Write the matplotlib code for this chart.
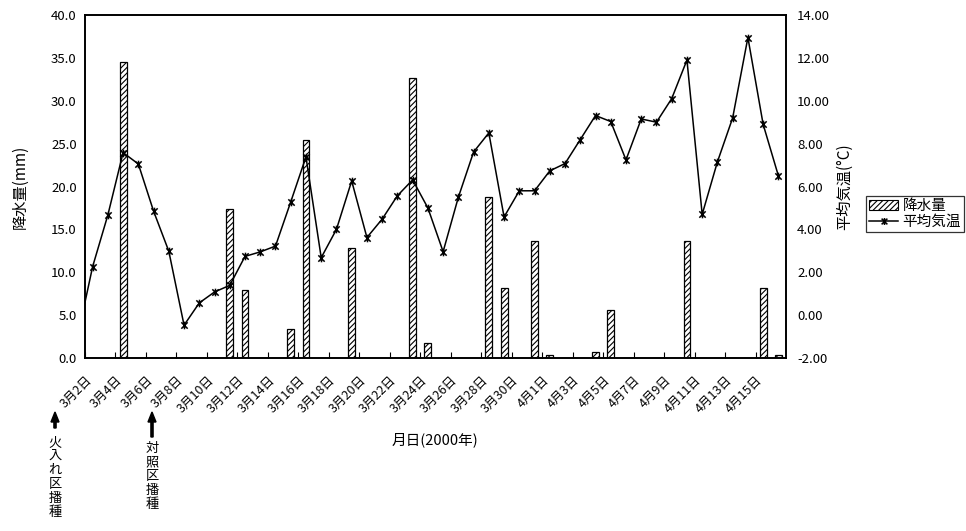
import matplotlib
matplotlib.use('Agg')
import matplotlib.pyplot as plt
from matplotlib.path import Path
from matplotlib.patches import Patch, FancyArrow
from matplotlib.lines import Line2D

plt.rcParams['font.family'] = ['Noto Sans CJK JP', 'DejaVu Sans']
plt.rcParams['hatch.linewidth'] = 0.8

# ============ DATA ============
# 3/2 .. 4/16 (2000)
dates = ([f'3月{d}日' for d in range(2, 32)] +
         [f'4月{d}日' for d in range(1, 17)])

rain = [0.0] * len(dates)
rain_days = {2: 34.5, 9: 17.4, 10: 7.9, 13: 3.4, 14: 25.4, 17: 12.8,
             21: 32.7, 22: 1.8, 26: 18.8, 27: 8.2, 29: 13.7, 30: 0.3,
             33: 0.7, 34: 5.6, 39: 13.7, 44: 8.2, 45: 0.3}
for k, v in rain_days.items():
    rain[k] = v

# 3/1 value sits just outside the plotted range (line enters from the left edge)
temp_prev = -1.05
temp = [2.26, 4.67, 7.58, 7.05, 4.85, 2.98, -0.47, 0.57, 1.08, 1.39,
        2.74, 2.95, 3.22, 5.28, 7.38, 2.68, 4.00, 6.26, 3.62, 4.48,
        5.57, 6.31, 5.00, 2.96, 5.50, 7.61, 8.50, 4.58, 5.80, 5.80,
        6.73, 7.07, 8.19, 9.31, 9.03, 7.24, 9.15, 9.00, 10.10, 11.90,
        4.70, 7.15, 9.20, 12.95, 8.90, 6.50]

sowing = [('火入れ区播種', 55, 428, 436), ('対照区播種', 152, 437, 442)]

x = list(range(len(dates)))

# Excel-like "star" marker: X with a vertical stroke
star = Path([(-1, -1), (1, 1), (-1, 1), (1, -1), (0, -1.2), (0, 1.2)],
            [Path.MOVETO, Path.LINETO, Path.MOVETO, Path.LINETO,
             Path.MOVETO, Path.LINETO])

# ============ PLOTTING ============
W, H = 966, 531
fig = plt.figure(figsize=(W / 100, H / 100), dpi=100)
ax = fig.add_axes([85 / W, 1 - 358 / H, 701 / W, 343 / H])

ax.bar(x, rain, width=0.45, color='white', edgecolor='black',
       hatch='//////', linewidth=0.9, zorder=2)
ax.set_xlim(-0.5, len(dates) - 0.5)
ax.set_ylim(0, 40)
ax.set_yticks(range(0, 41, 5))
ax.set_yticklabels([f'{v:.1f}' for v in range(0, 41, 5)])
ax.set_ylabel('降水量(mm)', fontsize=11, labelpad=16)

ax2 = ax.twinx()
ax2.plot([-1] + x, [temp_prev] + temp, color='black', lw=1.1,
         marker=star, markersize=5.5, markeredgewidth=1.1, zorder=3)
ax2.set_xlim(-0.5, len(dates) - 0.5)
ax2.set_ylim(-2, 14)
ax2.set_yticks(range(-2, 15, 2))
ax2.set_yticklabels([f'{v:.2f}' for v in range(-2, 15, 2)])
ax2.set_ylabel('平均気温(°C)', fontsize=11, labelpad=4)

# ticks at category boundaries every 2 days, labels of those days
ticks = [i - 0.5 for i in x if i % 2 == 0]
ax.set_xticks(ticks)
ax.set_xticklabels([dates[i] for i in x if i % 2 == 0], rotation=45,
                   ha='right', va='top', rotation_mode='anchor', fontsize=9)
ax.tick_params(axis='x', direction='in', length=4, pad=11)
ax.tick_params(axis='y', length=0, pad=6, labelsize=9.5)
ax2.tick_params(axis='y', length=0, pad=8, labelsize=9.5)
for a in (ax, ax2):
    for s in a.spines.values():
        s.set_linewidth(1.2)

fig.text(435 / W, 1 - 440 / H, '月日(2000年)', ha='center', va='center',
         fontsize=10.5)

# sowing annotations: arrow up to the date label, vertical text below
for label, xp, y_tail, y_text in sowing:
    fig.patches.append(FancyArrow(
        xp / W, 1 - y_tail / H, 0, (y_tail - 412) / H, width=1.2 / H,
        head_width=8 / W, head_length=10 / H, length_includes_head=True,
        color='black', transform=fig.transFigure, figure=fig))
    fig.text(xp / W, 1 - y_text / H, '\n'.join(label), ha='center',
             va='top', fontsize=9.5, linespacing=1.1)

handles = [Patch(facecolor='white', edgecolor='black', hatch='//////',
                 linewidth=0.8),
           Line2D([], [], color='black', lw=1.1, marker=star, markersize=5,
                  markeredgewidth=1.1)]
leg = fig.legend(handles, ['降水量', '平均気温'], loc='center left',
                 bbox_to_anchor=(866 / W, 1 - 214 / H), fontsize=10.5,
                 frameon=True, fancybox=False, edgecolor='black',
                 handlelength=2.0, handletextpad=0.3, borderpad=0.2,
                 labelspacing=0.15, borderaxespad=0)
leg.get_frame().set_linewidth(0.9)

fig.savefig('out.png', dpi=100)
